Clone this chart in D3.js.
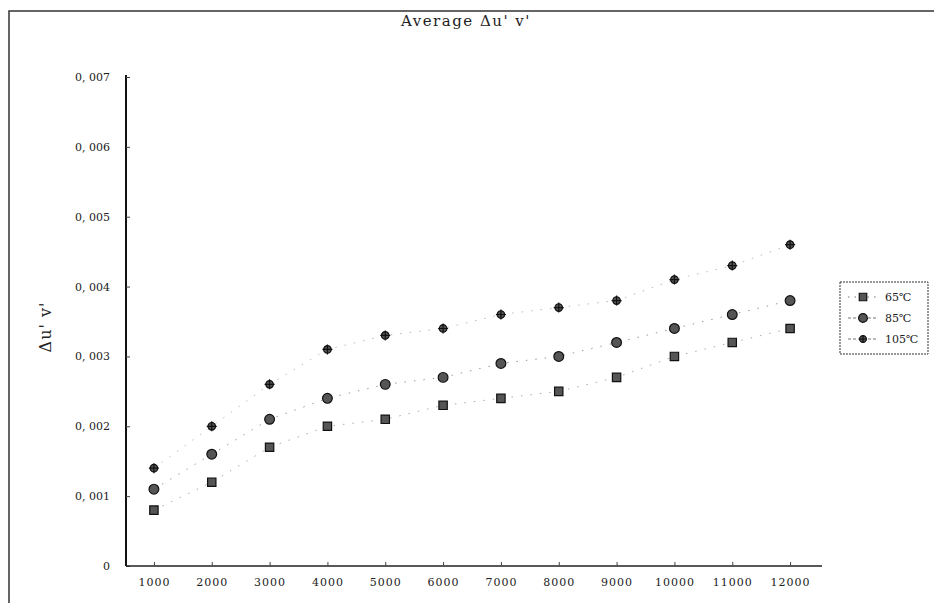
<!DOCTYPE html>
<html>
<head>
<meta charset="utf-8">
<script src="https://cdn.jsdelivr.net/npm/d3@7"></script>
<style>
  html, body { margin: 0; padding: 0; background: #fff; }
  svg { display: block; }
  text { font-family: "DejaVu Serif", "Liberation Serif", serif; fill: #222; }
</style>
</head>
<body>
<svg id="chart" width="934" height="603"></svg>
<script>
// Step sizes on the horizontal axis
const categories = ["1000", "2000", "3000", "4000", "5000", "6000",
                    "7000", "8000", "9000", "10000", "11000", "12000"];

// Average colour shift Δu'v' per temperature
const series65  = [0.0008, 0.0012, 0.0017, 0.0020, 0.0021, 0.0023, 0.0024, 0.0025, 0.0027, 0.0030, 0.0032, 0.0034];
const series85  = [0.0011, 0.0016, 0.0021, 0.0024, 0.0026, 0.0027, 0.0029, 0.0030, 0.0032, 0.0034, 0.0036, 0.0038];
const series105 = [0.0014, 0.0020, 0.0026, 0.0031, 0.0033, 0.0034, 0.0036, 0.0037, 0.0038, 0.0041, 0.0043, 0.0046];

const seriesNames = ["65℃", "85℃", "105℃"];
const yTicks = [0, 0.001, 0.002, 0.003, 0.004, 0.005, 0.006, 0.007];

const svg = d3.select("#chart");

// outer frame (top and left edges)
svg.append("path")
  .attr("d", "M9,603 L9,11 L934,11")
  .attr("fill", "none").attr("stroke", "#333").attr("stroke-width", 1.5);

const x = d3.scalePoint().domain(categories).range([125, 819]).padding(0.5);
const y = d3.scaleLinear().domain([0, 0.007]).range([566, 77]);

const fmt = v => v === 0 ? "0" : d3.format(".3f")(v).replace(".", ", ");

// y axis
const yAxis = svg.append("g")
  .attr("transform", "translate(126,0)")
  .call(d3.axisLeft(y).tickValues(yTicks).tickFormat(fmt)
        .tickSizeInner(-4).tickSizeOuter(0).tickPadding(16));
yAxis.select(".domain").attr("stroke", "#111").attr("stroke-width", 2)
  .attr("d", `M0,${y(0.007) - 2}V${y(0)}`);
yAxis.selectAll(".tick line").attr("stroke", "#444");
yAxis.selectAll(".tick text").style("font-size", "11px").attr("fill", "#333")
  .style("font-family", "'DejaVu Serif', serif");

// x axis
const xAxis = svg.append("g")
  .attr("transform", `translate(0,${y(0)})`)
  .call(d3.axisBottom(x).tickSizeInner(-4).tickSizeOuter(0).tickPadding(12));
xAxis.select(".domain").attr("stroke", "#222").attr("stroke-width", 1.5)
  .attr("d", "M126,0H822");
xAxis.selectAll(".tick line").attr("stroke", "#444");
xAxis.selectAll(".tick text").style("font-size", "11px").attr("fill", "#333")
  .style("letter-spacing", "1px")
  .style("font-family", "'DejaVu Serif', serif");

// titles
svg.append("text")
  .attr("x", 466).attr("y", 26).attr("text-anchor", "middle")
  .style("font-size", "15px").style("letter-spacing", "1.5px")
  .style("font-family", "'DejaVu Serif', serif")
  .text("Average Δu' v'");

svg.append("text")
  .attr("transform", "translate(51,327) rotate(-90)")
  .attr("text-anchor", "middle")
  .style("font-size", "16px").style("letter-spacing", "1px")
  .style("font-family", "'DejaVu Serif', serif")
  .text("Δu' v'");

// series
const data = [
  { name: seriesNames[0], values: series65,  shape: "square",  size: 70, line: "#aaa" },
  { name: seriesNames[1], values: series85,  shape: "circle",  size: 75, line: "#999" },
  { name: seriesNames[2], values: series105, shape: "star",    size: 45, line: "#bbb" }
];

const symbolFor = s => s === "square" ? d3.symbolSquare
                   : s === "circle" ? d3.symbolCircle : d3.symbolCircle;

const line = d3.line()
  .x((d, i) => x(categories[i]))
  .y(d => y(d));

data.forEach(s => {
  svg.append("path")
    .datum(s.values)
    .attr("d", line)
    .attr("fill", "none")
    .attr("stroke", s.line)
    .attr("stroke-width", 1)
    .attr("stroke-dasharray", "1.5,8");

  const g = svg.append("g").selectAll("g")
    .data(s.values)
    .join("g")
    .attr("transform", (d, i) => `translate(${x(categories[i])},${y(d)})`);
  g.append("path")
    .attr("d", d3.symbol().type(symbolFor(s.shape)).size(s.size))
    .attr("fill", "#555")
    .attr("stroke", "#111")
    .attr("stroke-width", 1.2);
  if (s.shape === "star") {
    g.append("path")
      .attr("d", "M-5,0H5M0,-5V5")
      .attr("stroke", "#111").attr("stroke-width", 1.2);
  }
});

// legend
const legend = svg.append("g").attr("transform", "translate(840,282)");
legend.append("rect")
  .attr("width", 88).attr("height", 72)
  .attr("fill", "#fff").attr("stroke", "#333").attr("stroke-width", 1)
  .attr("stroke-dasharray", "2,1");

data.forEach((s, i) => {
  const ly = 15 + i * 21;
  legend.append("line")
    .attr("x1", 8).attr("x2", 38).attr("y1", ly).attr("y2", ly)
    .attr("stroke", "#777").attr("stroke-width", 1)
    .attr("stroke-dasharray", i === 0 ? "1.5,5" : "3,2");
  legend.append("path")
    .attr("transform", `translate(23,${ly})`)
    .attr("d", d3.symbol().type(symbolFor(s.shape)).size(s.size * 0.8))
    .attr("fill", "#555").attr("stroke", "#111").attr("stroke-width", 1.2);
  if (s.shape === "star") {
    legend.append("path")
      .attr("transform", `translate(23,${ly})`)
      .attr("d", "M-4,0H4M0,-4V4")
      .attr("stroke", "#111").attr("stroke-width", 1.2);
  }
  legend.append("text")
    .attr("x", 45).attr("y", ly + 4)
    .style("font-size", "11px").style("font-family", "'DejaVu Serif', serif")
    .text(s.name);
});
</script>
</body>
</html>
